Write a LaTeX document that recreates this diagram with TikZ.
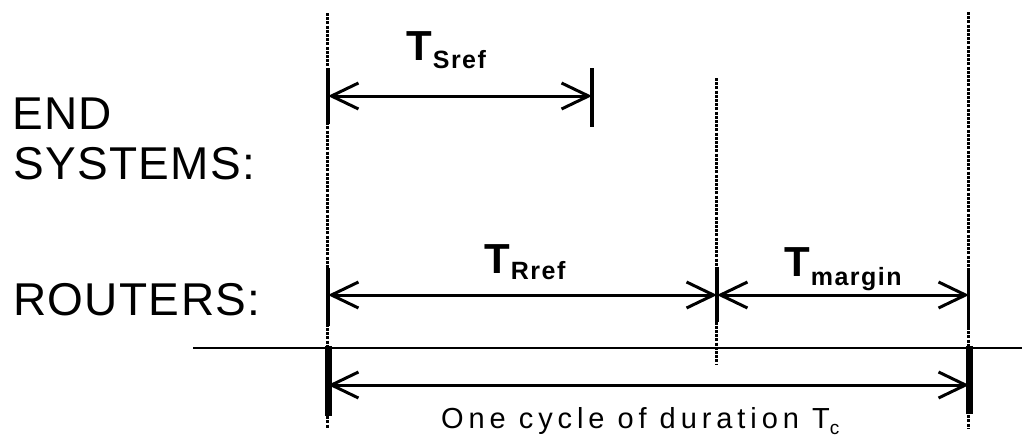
\documentclass[tikz,border=0pt]{standalone}
\usepackage{fontspec}
\setmainfont{Liberation Sans}
\usetikzlibrary{arrows.meta}
\begin{document}
\begin{tikzpicture}[x=1pt,y=-1pt,
  guide/.style={line width=3pt, dash pattern=on 3pt off 1.2pt},
  tickmark/.style={line width=4.5pt},
  bigtick/.style={line width=7pt},
  thintick/.style={line width=3pt},
  dimline/.style={line width=3pt, {Straight Barb[length=27pt,width=26pt]}-{Straight Barb[length=27pt,width=26pt]}},
  lbl/.style={anchor=base west, inner sep=0pt, font=\fontsize{46}{51}\selectfont\addfontfeatures{LetterSpace=3}},
  tlbl/.style={anchor=base west, inner sep=0pt, font=\fontsize{42}{42}\selectfont\bfseries},
]
\useasboundingbox (0,0) rectangle (1035,440);

% guides
\coordinate (g1t) at (327.5,13);  \coordinate (g1b) at (327.5,428);
\coordinate (g2t) at (716.5,78);  \coordinate (g2b) at (716.5,364);
\coordinate (g3t) at (968.5,12);  \coordinate (g3b) at (968.5,428);
\draw[guide] (g1t) -- (g1b);
\draw[guide] (g2t) -- (g2b);
\draw[guide] (g3t) -- (g3b);

% baseline
\coordinate (hl) at (193,348); \coordinate (hr) at (1022,348);
\draw[line width=2pt] (hl) -- (hr);

% ticks
\coordinate (s1t) at (328,68);  \coordinate (s1b) at (328,124);
\coordinate (s2t) at (592,68);  \coordinate (s2b) at (592,127);
\coordinate (r1t) at (328,268); \coordinate (r1b) at (328,326);
\coordinate (r2t) at (717,267); \coordinate (r2b) at (717,322);
\coordinate (r3t) at (968.5,268); \coordinate (r3b) at (968.5,330);
\coordinate (c1t) at (328,346); \coordinate (c1b) at (328,416);
\coordinate (c2t) at (969,346); \coordinate (c2b) at (969,414);
\draw[tickmark] (s1t) -- (s1b);
\draw[tickmark] (s2t) -- (s2b);
\draw[tickmark] (r1t) -- (r1b);
\draw[tickmark] (r2t) -- (r2b);
\draw[thintick] (r3t) -- (r3b);
\draw[bigtick] (c1t) -- (c1b);
\draw[bigtick] (c2t) -- (c2b);

% dimension arrows
\coordinate (sa) at (328,96);  \coordinate (sb) at (592,96);
\coordinate (ra) at (328,295); \coordinate (rb) at (717,295); \coordinate (rc) at (969,295);
\coordinate (ca) at (328,385); \coordinate (cb) at (969,385);
\draw[dimline] (sa) -- (sb);
\draw[dimline] (ra) -- (rb);
\draw[dimline] (rb) -- (rc);
\draw[dimline] (ca) -- (cb);

% left labels
\node[lbl] (endl) at (12,129) {END};
\node[lbl] (sysl) at (13,179) {SYSTEMS:};
\node[lbl] (rtl) at (13,315) {ROUTERS:};

% T labels
\node[tlbl] (tsref) at (406,60) {T\hspace{1pt}\raisebox{-8pt}{\fontsize{25}{25}\selectfont\bfseries\addfontfeatures{LetterSpace=6}Sref}};
\node[tlbl] (trref) at (484,273) {T\hspace{1pt}\raisebox{-6pt}{\fontsize{25}{25}\selectfont\bfseries\addfontfeatures{LetterSpace=6}Rref}};
\node[tlbl] (tmargin) at (784,276) {T\hspace{1pt}\raisebox{-9pt}{\fontsize{25}{25}\selectfont\bfseries\addfontfeatures{LetterSpace=6}margin}};

% bottom label
\node[anchor=base west, inner sep=0pt, font=\fontsize{29}{29}\selectfont\addfontfeatures{LetterSpace=17}] (cyc) at (441,428) {One cycle of duration T\raisebox{-6pt}{\fontsize{19}{19}\selectfont c}};
\end{tikzpicture}
\end{document}
